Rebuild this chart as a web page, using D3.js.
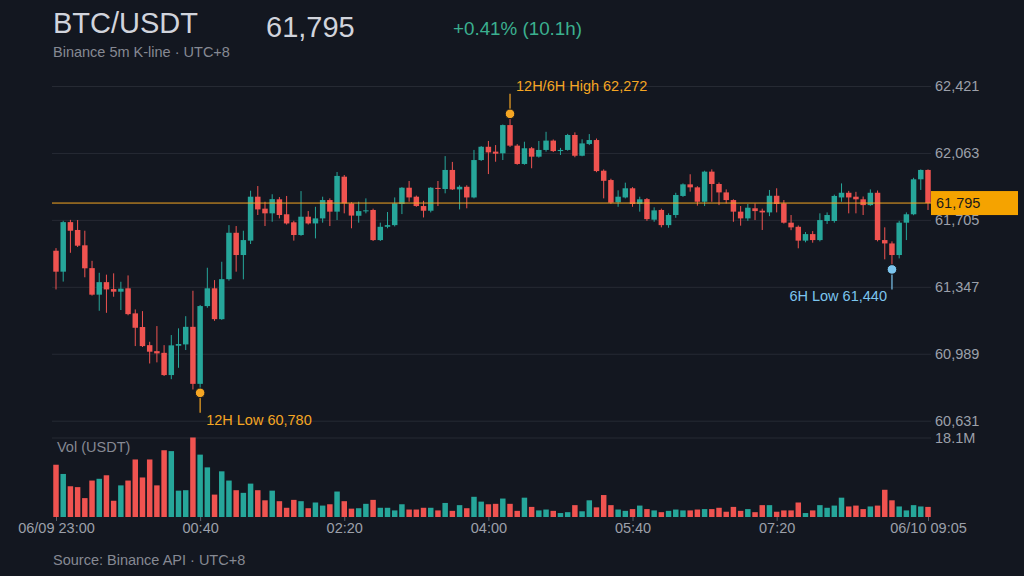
<!DOCTYPE html>
<html><head><meta charset="utf-8">
<script src="https://cdn.jsdelivr.net/npm/d3@7"></script>
<style>
html,body{margin:0;padding:0;background:#131720;}
svg{display:block;font-family:"Liberation Sans",Arial,Helvetica,sans-serif;}
</style>
</head><body>
<svg id="chart" width="1024" height="576"></svg>
<script>
// ---- data (BTC/USDT 5m candles, 06/09 23:00 -> 06/10 09:05, UTC+8) ----
const startTime = "2024-06-09T23:00:00Z";
const opens = [61540,61428,61693,61651,61569,61447,61305,61372,61335,61321,61339,61205,61132,61035,61003,60994,60875,61032,61039,61133,60828,61244,61339,61174,61388,61636,61517,61594,61829,61765,61740,61815,61735,61692,61624,61722,61686,61713,61811,61749,61936,61793,61727,61752,61758,61597,61668,61677,61790,61877,61829,61779,61754,61876,61870,61972,61868,61882,61825,62025,62096,62070,62061,62212,62102,62004,62088,62043,62079,62129,62073,62079,62159,62048,62111,62132,61968,61918,61799,61825,61874,61790,61816,61706,61758,61677,61731,61833,61895,61879,61802,61963,61897,61852,61811,61749,61713,61767,61754,61745,61834,61793,61690,61668,61594,61629,61597,61699,61699,61825,61850,61829,61815,61784,61850,61597,61579,61517,61690,61735,61922,61972];
const highs = [61554,61700,61705,61704,61647,61486,61422,61412,61419,61374,61408,61226,61217,61053,61137,61035,61089,61125,61190,61326,61250,61449,61383,61481,61677,61672,61647,61861,61886,61802,61842,61827,61833,61700,61859,61752,61775,61829,61820,61961,61945,61800,61802,61820,61765,61690,61747,61825,61880,61913,61835,61807,61880,61913,62046,62015,61890,61890,62079,62100,62127,62105,62215,62272,62110,62123,62095,62127,62176,62135,62090,62165,62173,62136,62164,62140,61975,61925,61863,61904,61880,61829,61822,61772,61765,61740,61850,61900,61949,61885,61968,61975,61905,61868,61815,61779,61790,61793,61765,61865,61874,61811,61731,61675,61640,61645,61740,61745,61840,61900,61860,61855,61830,61868,61862,61665,61590,61700,61745,61930,61975,61975];
const lows = [61333,61375,61529,61560,61398,61300,61219,61208,61294,61223,61195,61030,61025,60937,60943,60870,60853,60914,61009,60798,60780,61235,61165,61170,61380,61428,61387,61576,61731,61672,61695,61713,61680,61594,61620,61680,61606,61690,61672,61704,61740,61660,61690,61740,61592,61592,61660,61670,61736,61802,61775,61718,61745,61779,61847,61865,61761,61767,61820,62020,61950,62016,62025,62095,62000,62000,61981,62038,62070,62068,62052,62075,62040,62045,62105,61960,61820,61790,61775,61820,61775,61749,61700,61695,61665,61663,61716,61828,61856,61781,61779,61802,61784,61793,61695,61674,61700,61704,61651,61725,61745,61685,61650,61553,61585,61583,61590,61683,61690,61802,61740,61740,61731,61780,61590,61494,61440,61499,61597,61730,61865,61758];
const closes = [61428,61693,61647,61567,61446,61305,61372,61333,61321,61337,61201,61128,61030,61000,60991,60875,61034,61041,61133,60828,61244,61339,61174,61388,61636,61517,61597,61829,61761,61740,61816,61731,61686,61624,61722,61686,61713,61811,61749,61940,61793,61728,61752,61756,61597,61668,61677,61793,61877,61825,61779,61754,61877,61872,61972,61868,61882,61825,62025,62096,62066,62059,62212,62102,62004,62088,62043,62079,62129,62073,62079,62159,62048,62114,62132,61966,61914,61797,61829,61874,61790,61815,61709,61756,61677,61731,61838,61895,61879,61802,61963,61897,61852,61811,61749,61713,61770,61752,61745,61834,61790,61690,61665,61594,61629,61597,61704,61731,61833,61850,61825,61815,61784,61850,61597,61579,61517,61690,61735,61922,61972,61795];
// volume in millions of USDT
const volumes = [11.9,9.8,7.0,6.8,4.3,8.3,8.7,9.5,3.7,7.2,8.3,13.1,9.0,13.1,7.2,15.2,15.0,6.0,6.1,18.1,14.2,11.3,5.1,10.4,8.3,6.1,5.5,7.6,6.1,3.8,6.0,3.6,2.1,3.9,3.6,2.0,3.3,2.6,2.9,5.8,3.6,1.9,2.0,3.0,3.9,2.1,2.1,1.5,2.9,1.7,1.7,2.1,2.1,1.5,3.2,1.4,2.7,2.0,4.6,3.5,2.9,3.0,4.2,3.0,1.4,4.4,2.3,1.5,1.7,1.4,0.9,1.1,2.7,1.3,3.8,2.2,5.0,2.7,1.7,1.4,1.8,2.6,1.8,1.5,1.1,1.4,1.7,1.5,1.5,1.7,1.8,1.8,2.1,1.2,2.3,1.4,1.8,1.1,2.7,2.7,1.2,1.5,1.5,3.3,0.9,1.5,2.7,2.1,2.6,4.4,2.4,2.6,1.8,2.4,2.6,6.2,3.8,2.4,1.5,2.7,2.4,2.3];
const priceTicks = [60631,60989,61347,61705,62063,62421];
const volMax = 18.1;
const xTickTimes = ["2024-06-09T23:00:00Z","2024-06-10T00:40:00Z","2024-06-10T02:20:00Z","2024-06-10T04:00:00Z","2024-06-10T05:40:00Z","2024-06-10T07:20:00Z","2024-06-10T09:05:00Z"];
const xTickLabels = ["06/09 23:00","00:40","02:20","04:00","05:40","07:20","06/10 09:05"];
const lastPrice = 61795;
const markers = [
  {idx:20, price:60780, label:"12H Low 60,780", kind:"low12"},
  {idx:63, price:62272, label:"12H/6H High 62,272", kind:"high"},
  {idx:116, price:61440, label:"6H Low 61,440", kind:"low6"}
];

// ---- setup ----
const UP = "#26a69a", DOWN = "#ef5350", ORANGE = "#f5a623", BLUE = "#7cc5ee";
const GRID = "#262a33", AXIS_TXT = "#9ca0aa";
const FS = 14.5;
const svg = d3.select("#chart");
const t0 = new Date(startTime).getTime();
const candles = opens.map((o,i)=>({t:new Date(t0+i*300000), o, h:highs[i], l:lows[i], c:closes[i], v:volumes[i]}));

const L = 52, R = 931;
const x = d3.scaleUtc().domain([candles[0].t, candles[candles.length-1].t]).range([56, 928]);
const y = d3.scaleLinear().domain([60631, 62421]).range([420.7, 86]);
const yv = d3.scaleLinear().domain([0, volMax]).range([517, 437.5]);
const step = x(candles[1].t) - x(candles[0].t);
const bw = step * 0.76;

svg.append("rect").attr("width",1024).attr("height",576).attr("fill","#131720");

// price grid + labels
const yAxis = d3.axisRight(y).tickValues(priceTicks).tickFormat(d3.format(",")).tickSize(-(R-L)).tickPadding(4);
const gy = svg.append("g").attr("transform",`translate(${R},0)`).call(yAxis);
gy.select(".domain").remove();
gy.selectAll(".tick line").attr("stroke",GRID);
gy.selectAll(".tick text").attr("fill",AXIS_TXT).attr("font-size",FS).attr("font-family","Liberation Sans, Arial, sans-serif");

// volume axis
const vAxis = d3.axisRight(yv).tickValues([volMax]).tickFormat(d=>d+"M").tickSize(-(R-L)).tickPadding(4);
const gv = svg.append("g").attr("transform",`translate(${R},0)`).call(vAxis);
gv.select(".domain").remove();
gv.selectAll(".tick line").attr("stroke",GRID);
gv.selectAll(".tick text").attr("fill",AXIS_TXT).attr("font-size",FS).attr("font-family","Liberation Sans, Arial, sans-serif");

// x axis
const xAxis = d3.axisBottom(x).tickValues(xTickTimes.map(d=>new Date(d))).tickFormat((d,i)=>xTickLabels[i]).tickSize(4).tickPadding(2);
const gx = svg.append("g").attr("transform","translate(0,517)").call(xAxis);
gx.select(".domain").remove();
gx.selectAll(".tick line").attr("stroke","#5a5e68");
gx.selectAll(".tick text").attr("fill",AXIS_TXT).attr("font-size",FS).attr("font-family","Liberation Sans, Arial, sans-serif");

// volume bars
svg.append("g").selectAll("rect").data(candles).join("rect")
  .attr("x",d=>x(d.t)-bw/2).attr("width",bw)
  .attr("y",d=>yv(d.v)).attr("height",d=>yv(0)-yv(d.v))
  .attr("fill",d=>d.c>=d.o?UP:DOWN);

// candles
const gc = svg.append("g");
gc.selectAll("line").data(candles).join("line")
  .attr("x1",d=>x(d.t)).attr("x2",d=>x(d.t))
  .attr("y1",d=>y(d.h)).attr("y2",d=>y(d.l))
  .attr("stroke",d=>d.c>=d.o?UP:DOWN).attr("stroke-width",1);
gc.selectAll("rect").data(candles).join("rect")
  .attr("x",d=>x(d.t)-bw/2).attr("width",bw)
  .attr("y",d=>y(Math.max(d.o,d.c)))
  .attr("height",d=>Math.max(1,Math.abs(y(d.o)-y(d.c))))
  .attr("fill",d=>d.c>=d.o?UP:DOWN);

// last price line + tag
svg.append("line").attr("x1",L).attr("x2",R).attr("y1",y(lastPrice)).attr("y2",y(lastPrice))
  .attr("stroke",ORANGE).attr("stroke-width",1);
svg.append("rect").attr("x",R).attr("y",y(lastPrice)-12).attr("width",87).attr("height",24).attr("fill","#f5a300");
svg.append("text").attr("x",R+5).attr("y",y(lastPrice)).attr("dy","0.35em")
  .attr("fill","#1a1a1a").attr("font-size",FS).text(d3.format(",")(lastPrice));

// markers
markers.forEach(m=>{
  const mx = x(candles[m.idx].t), my = y(m.price);
  const col = m.kind==="low6"?BLUE:ORANGE;
  const dir = m.kind==="high"?-1:1;
  svg.append("line").attr("x1",mx).attr("x2",mx).attr("y1",my).attr("y2",my+dir*20).attr("stroke",col).attr("stroke-width",1.2);
  svg.append("circle").attr("cx",mx).attr("cy",my).attr("r",4.8).attr("fill",col).attr("stroke","#131720").attr("stroke-width",1);
  const t = svg.append("text").attr("fill",col).attr("font-size",FS).text(m.label);
  if(m.kind==="high") t.attr("x",mx+6).attr("y",my-23);
  else if(m.kind==="low12") t.attr("x",mx+6).attr("y",my+32);
  else t.attr("x",mx-5).attr("y",my+32).attr("text-anchor","end");
});

// texts
svg.append("text").attr("x",53).attr("y",33).attr("fill","#d1d4dc").attr("font-size",29).text("BTC/USDT");
svg.append("text").attr("x",266).attr("y",37).attr("fill","#d1d4dc").attr("font-size",29).text(d3.format(",")(lastPrice));
const chg = (closes[closes.length-1]/opens[0]-1)*100;
svg.append("text").attr("x",453).attr("y",35).attr("fill","#3bb08f").attr("font-size",18.8).text(`+${chg.toFixed(2)}% (10.1h)`);
svg.append("text").attr("x",53).attr("y",57).attr("fill","#868993").attr("font-size",FS).text("Binance 5m K-line · UTC+8");
svg.append("text").attr("x",57).attr("y",452).attr("fill","#868993").attr("font-size",FS).text("Vol (USDT)");
svg.append("text").attr("x",53).attr("y",565).attr("fill","#868993").attr("font-size",FS).text("Source: Binance API · UTC+8");
</script>
</body></html>
